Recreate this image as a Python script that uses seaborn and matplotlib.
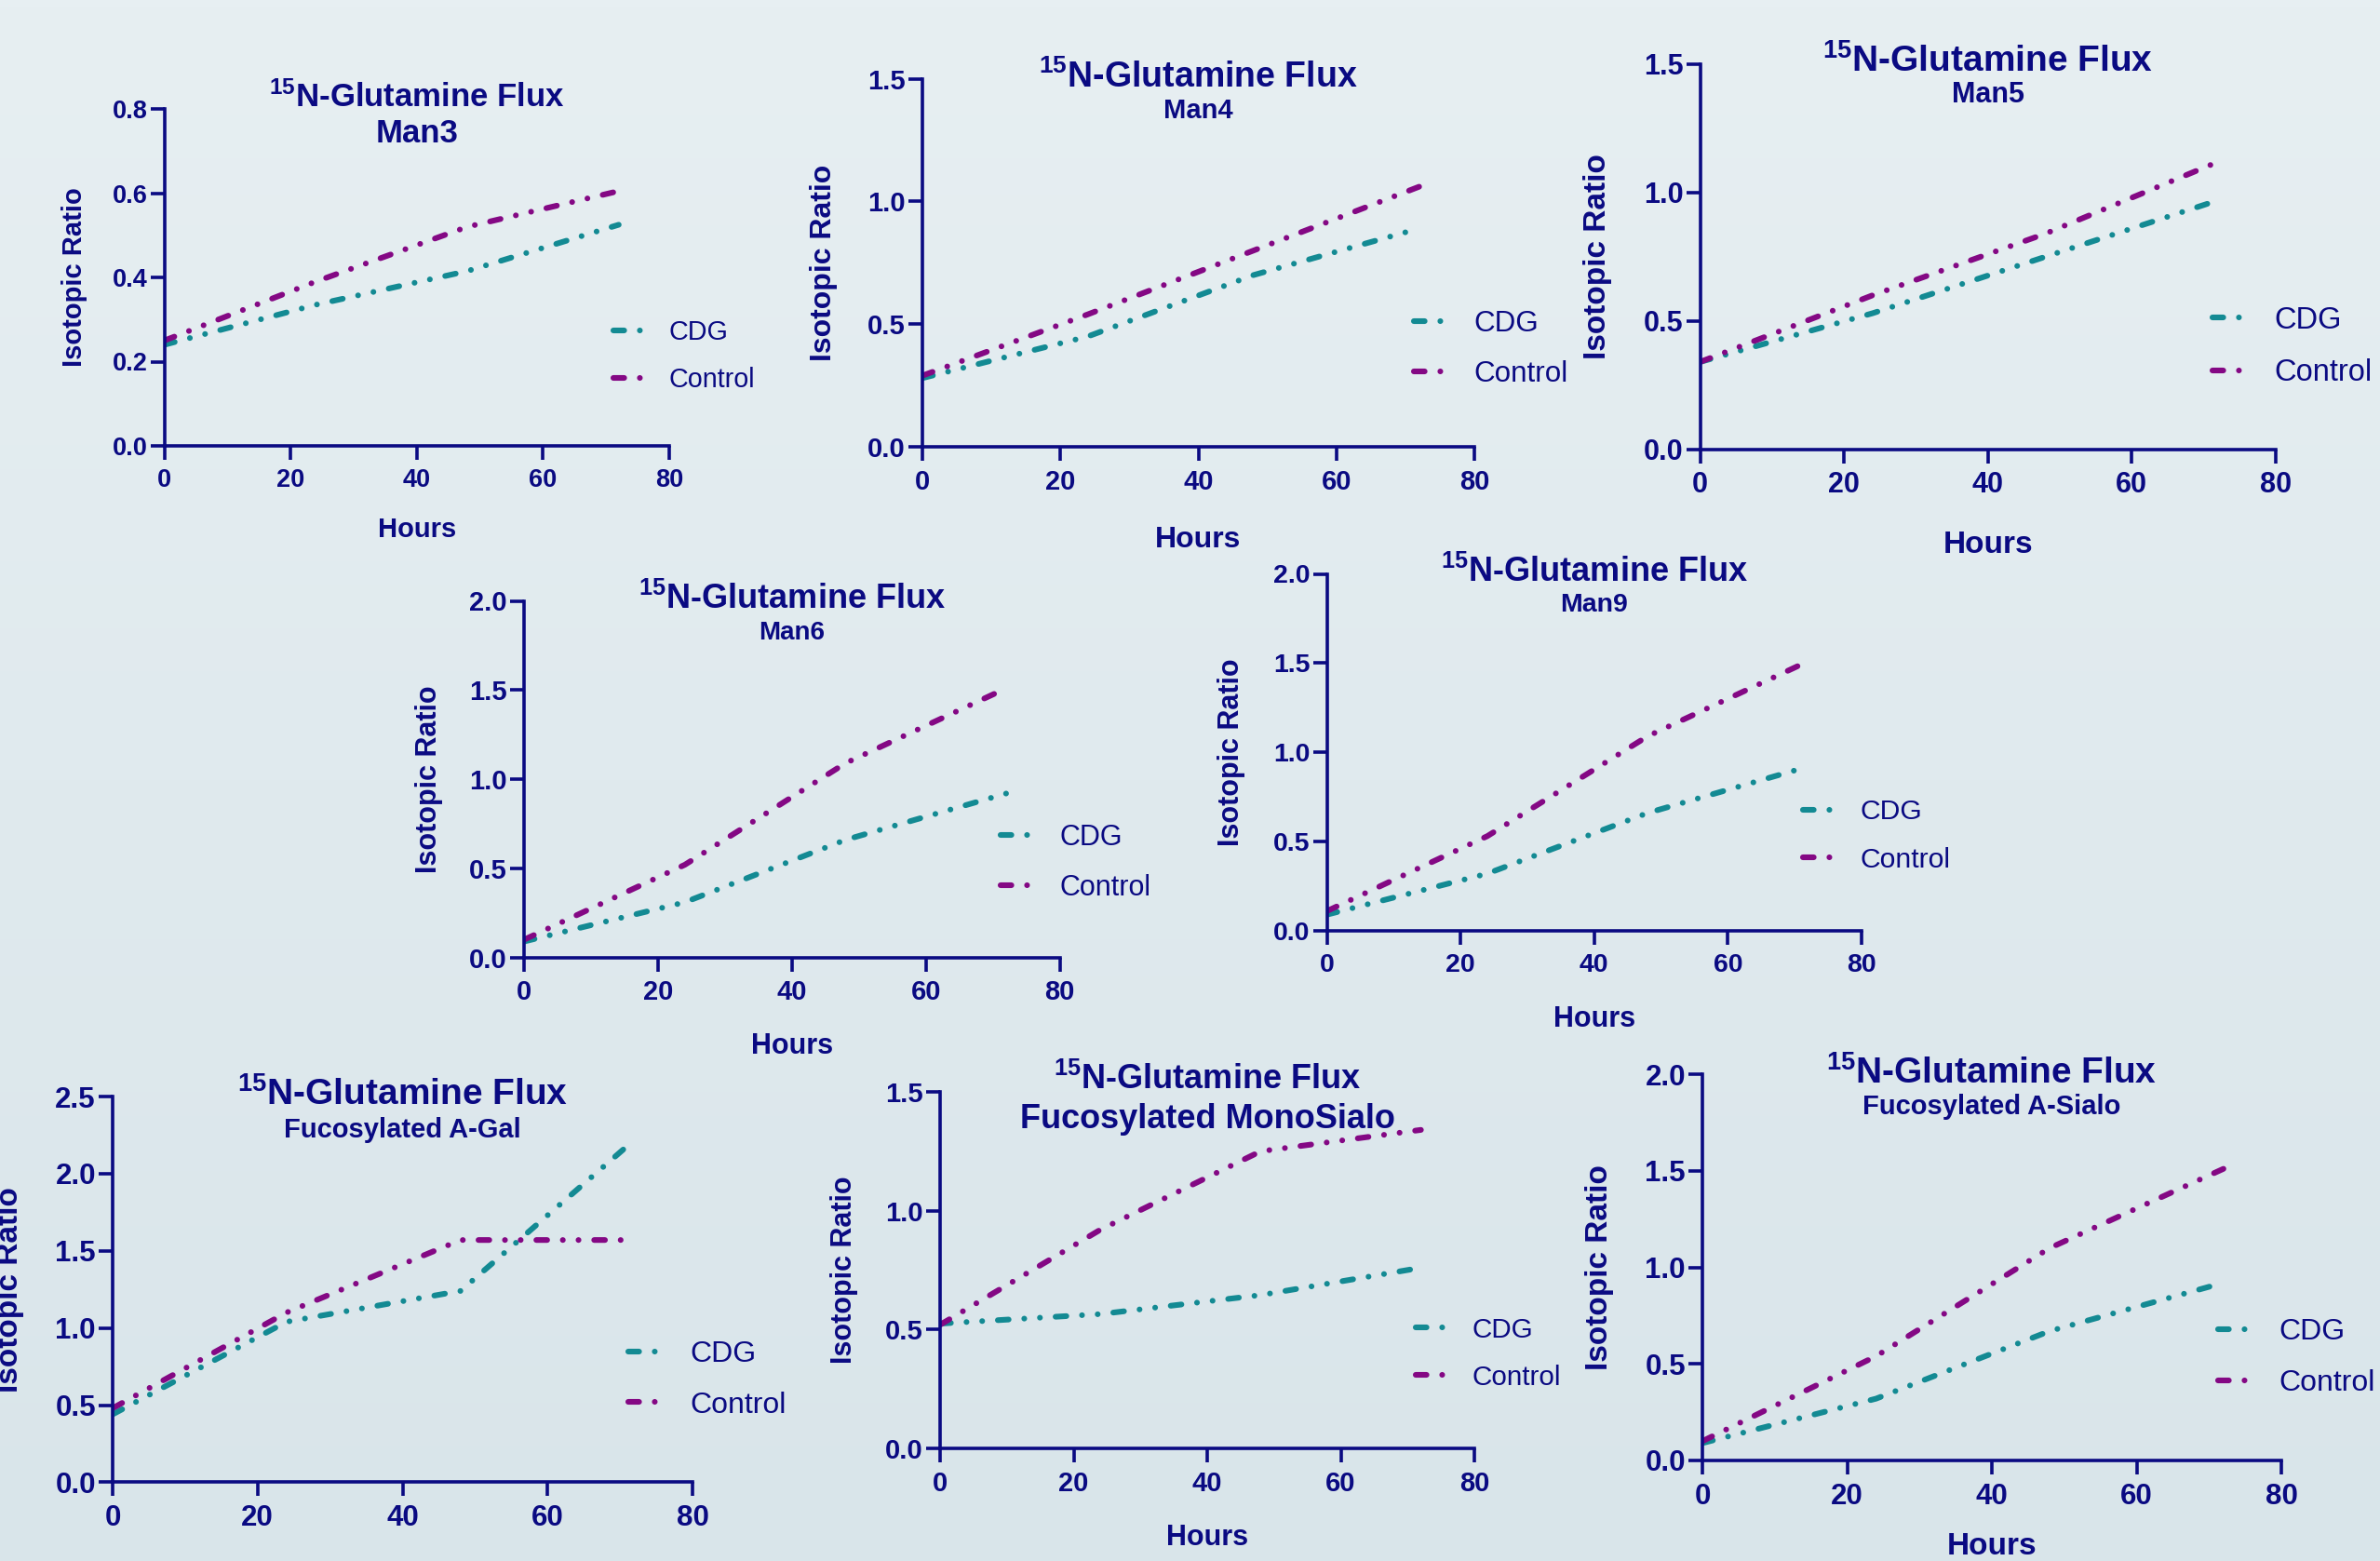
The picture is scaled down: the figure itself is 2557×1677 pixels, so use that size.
import numpy as np
import pandas as pd
import seaborn as sns
import matplotlib.pyplot as plt
from matplotlib.lines import Line2D
from matplotlib.ticker import FormatStrFormatter
from matplotlib.colors import LinearSegmentedColormap

sns.set_theme(style="ticks")
plt.rcParams['font.family'] = ['Liberation Sans', 'DejaVu Sans']
plt.rcParams['font.weight'] = 'bold'
plt.rcParams['mathtext.fontset'] = 'custom'
plt.rcParams['mathtext.bf'] = 'Liberation Sans:bold'
plt.rcParams['mathtext.rm'] = 'Liberation Sans:bold'

NAVY = '#0a0a82'
TEAL = '#138a93'
PURPLE = '#840884'

# ---- data ----
hours = [0, 24, 48, 72]
groups = ['CDG', 'Control']
glycans = ['Man3', 'Man4', 'Man5', 'Man6', 'Man9',
           'Fucosylated A-Gal', 'Fucosylated MonoSialo', 'Fucosylated A-Sialo']

cdg_man3 = [0.24, 0.335, 0.415, 0.525]
ctrl_man3 = [0.25, 0.39, 0.52, 0.605]
cdg_man4 = [0.28, 0.45, 0.70, 0.89]
ctrl_man4 = [0.29, 0.54, 0.80, 1.06]
cdg_man5 = [0.34, 0.53, 0.75, 0.97]
ctrl_man5 = [0.34, 0.60, 0.84, 1.12]
cdg_man6 = [0.09, 0.31, 0.66, 0.92]
ctrl_man6 = [0.10, 0.52, 1.09, 1.51]
cdg_man9 = [0.09, 0.32, 0.66, 0.92]
ctrl_man9 = [0.11, 0.53, 1.09, 1.51]
cdg_agal = [0.44, 1.04, 1.24, 2.22]
ctrl_agal = [0.48, 1.10, 1.57, 1.57]
cdg_monosialo = [0.525, 0.565, 0.645, 0.76]
ctrl_monosialo = [0.52, 0.92, 1.25, 1.34]
cdg_asialo = [0.09, 0.32, 0.67, 0.92]
ctrl_asialo = [0.10, 0.54, 1.10, 1.51]

cdg_values = [cdg_man3, cdg_man4, cdg_man5, cdg_man6, cdg_man9, cdg_agal, cdg_monosialo, cdg_asialo]
ctrl_values = [ctrl_man3, ctrl_man4, ctrl_man5, ctrl_man6, ctrl_man9, ctrl_agal, ctrl_monosialo, ctrl_asialo]
y_max = [0.8, 1.5, 1.5, 2.0, 2.0, 2.5, 1.5, 2.0]
y_step = [0.2, 0.5, 0.5, 0.5, 0.5, 0.5, 0.5, 0.5]

# ---- layout (pixels in a 2557x1677 canvas) ----
W, H = 2557, 1677
boxes = [(176.5, 117, 719, 479), (991, 84.6, 1584, 480), (1826.5, 69, 2445, 482.6),
         (563, 645.5, 1138.7, 1028.7), (1425.5, 616.5, 2000, 999.9),
         (121, 1178, 744, 1592.4), (1010, 1173, 1584, 1556), (1829, 1154, 2451, 1569)]
title_base = [(114.4, 153), (93.6, 126.8), (76.5, 110), (654.4, 687), (624.6, 657),
              (1187, 1221.5), (1169.7, 1211.7), (1163.5, 1196.8)]
title_size = [(25, 25), (27, 21), (28, 22), (26, 20), (26, 20.5), (28, 21), (26, 26), (28, 21)]
ylab_size = [21, 23, 24, 22, 22, 24, 22, 24]
ylab_off = [97, 106, 110, 101.5, 102, 110, 103.5, 111]
tick_size = [19.5, 21, 22, 21, 20.5, 22.5, 21, 22.5]
xlab_size = [21, 23, 24, 22, 22, 23, 22, 24]
# None -> the "Hours" label falls below the canvas in the original, so it is not drawn
xlab_off = [98, 108, 111, 103, 103, None, 104, 101]
leg_size = [20.7, 22.6, 23.5, 22, 21.7, 23, 21.3, 23]

LW = 4.4
DASH = (1.9, 2.75, 0.01, 2.75, 0.01, 2.75)
palette = {'CDG': TEAL, 'Control': PURPLE}

fig = plt.figure(figsize=(W / 100, H / 100), dpi=100)

# soft vertical gradient behind everything
bg = fig.add_axes([0, 0, 1, 1], zorder=-10)
cmap = LinearSegmentedColormap.from_list('bg', ['#e7eff2', '#d9e5ea'])
bg.imshow(np.linspace(0, 1, 256).reshape(-1, 1), aspect='auto', cmap=cmap, extent=[0, 1, 0, 1])
bg.axis('off')

for i, name in enumerate(glycans):
    l, t, r, b = boxes[i]
    ax = fig.add_axes([l / W, 1 - b / H, (r - l) / W, (b - t) / H])
    ax.set_facecolor('none')

    df = pd.DataFrame({
        'Hours': hours * 2,
        'Isotopic Ratio': cdg_values[i] + ctrl_values[i],
        'Group': ['CDG'] * len(hours) + ['Control'] * len(hours),
    })
    sns.lineplot(data=df, x='Hours', y='Isotopic Ratio', hue='Group', style='Group',
                 palette=palette, dashes={g: DASH for g in groups},
                 linewidth=LW, dash_capstyle='round', legend=False, ax=ax)

    ax.set_xlim(0, 80)
    ax.set_ylim(0, y_max[i])
    ax.set_xticks([0, 20, 40, 60, 80])
    ax.set_yticks(np.round(np.arange(0, y_max[i] + 1e-6, y_step[i]), 2))
    ax.yaxis.set_major_formatter(FormatStrFormatter('%.1f'))
    sns.despine(ax=ax)
    for s in ['left', 'bottom']:
        ax.spines[s].set_linewidth(2.6)
        ax.spines[s].set_color(NAVY)
    ax.tick_params(axis='both', colors=NAVY, width=2.6, length=11, labelsize=tick_size[i])
    ax.tick_params(axis='y', pad=2)
    ax.tick_params(axis='x', pad=6)

    w_px, h_px = r - l, b - t
    ax.set_ylabel('Isotopic Ratio', fontsize=ylab_size[i], color=NAVY, fontweight='bold')
    ax.yaxis.set_label_coords(-ylab_off[i] / w_px, 0.5)
    ax.yaxis.label.set_va('center')
    if xlab_off[i] is None:
        ax.set_xlabel('')
    else:
        ax.set_xlabel('Hours', fontsize=xlab_size[i], color=NAVY, fontweight='bold')
        ax.xaxis.set_label_coords(0.5, -xlab_off[i] / h_px)
        ax.xaxis.label.set_va('baseline')

    # two-line title
    cx = (l + r) / 2 / W
    fig.text(cx, 1 - title_base[i][0] / H, r'$\mathbf{^{15}}$N-Glutamine Flux',
             ha='center', va='baseline', fontsize=title_size[i][0], color=NAVY, fontweight='bold')
    fig.text(cx, 1 - title_base[i][1] / H, name,
             ha='center', va='baseline', fontsize=title_size[i][1], color=NAVY, fontweight='bold')

    handles = [Line2D([], [], color=palette[g], lw=LW, dashes=DASH, dash_capstyle='round')
               for g in groups]
    ax.legend(handles, groups, loc='center left', bbox_to_anchor=(0.89, 0.266),
              frameon=False, prop={'size': leg_size[i], 'weight': 'normal'}, labelcolor=NAVY,
              handlelength=1.05, handletextpad=1.0, labelspacing=0.78,
              borderpad=0, borderaxespad=0)

fig.savefig('out.png', dpi=100)
